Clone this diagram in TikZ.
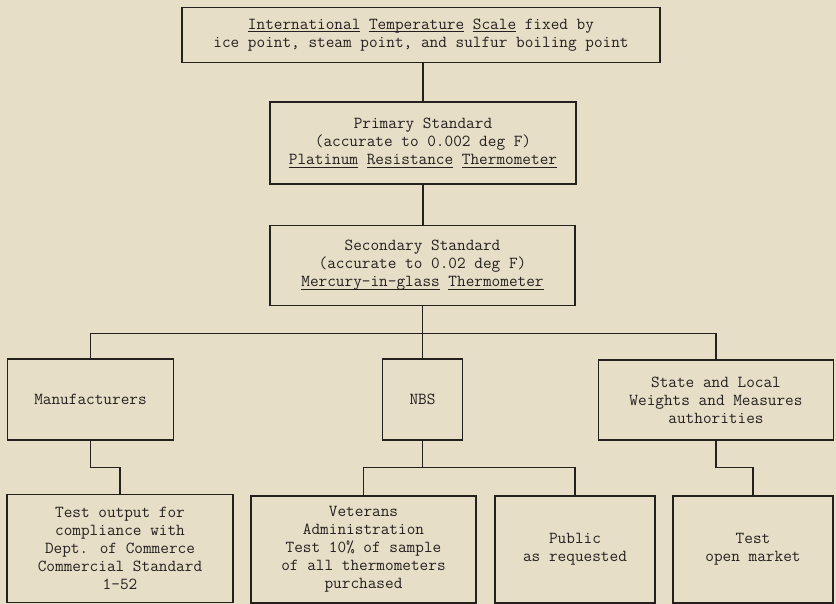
\documentclass[tikz,border=0pt]{standalone}
\usepackage{fontspec}
\usetikzlibrary{calc}
\definecolor{paper}{RGB}{231,222,200}
\definecolor{ink}{RGB}{35,32,30}
% typewritten underline under a single word
\newsavebox\uwbox
\newcommand\uw[1]{\sbox\uwbox{#1}\rlap{\rule[-3pt]{\wd\uwbox}{0.9pt}}\usebox\uwbox}
\begin{document}
\begin{tikzpicture}[x=1pt,y=-1pt,
  box/.style={draw=ink, line width=1.5pt, inner sep=0pt, align=center, text=ink,
    font=\ttfamily\fontsize{16.8}{17.9}\selectfont},
  link/.style={draw=ink, line width=1.5pt}]
\fill[paper] (0,0) rectangle (836,604);
\useasboundingbox (0,0) rectangle (836,604);

% standards chain
\node[box, minimum width=478pt, minimum height=55pt] (scale) at (421,35)
  {\uw{International} \uw{Temperature} \uw{Scale} fixed by\\
   ice point, steam point, and sulfur boiling point};
\node[box, minimum width=306pt, minimum height=82pt] (primary) at (423,143)
  {Primary Standard\\(accurate to 0.002 deg F)\\
   \uw{Platinum} \uw{Resistance} \uw{Thermometer}};
\node[box, minimum width=305pt, minimum height=80pt] (secondary) at (422.5,265.5)
  {Secondary Standard\\(accurate to 0.02 deg F)\\
   \uw{Mercury-in-glass} \uw{Thermometer}};

% users of the secondary standard
\node[box, minimum width=166pt, minimum height=81pt] (manuf) at (90.5,399.5) {Manufacturers};
\node[box, minimum width=80pt, minimum height=81pt] (nbs) at (422.5,399.5) {NBS};
\node[box, minimum width=235pt, minimum height=80pt] (state) at (716,400)
  {State and Local\\Weights and Measures\\authorities};

% testing programs
\node[box, minimum width=226pt, minimum height=108pt] (testout) at (120,548.5)
  {Test output for\\compliance with\\Dept. of Commerce\\Commercial Standard\\1-52};
\node[box, minimum width=225pt, minimum height=107pt] (vet) at (363.5,549.5)
  {Veterans\\Administration\\Test 10\% of sample\\of all thermometers\\purchased};
\node[box, minimum width=160pt, minimum height=107pt] (public) at (575,549.5)
  {Public\\as requested};
\node[box, minimum width=160pt, minimum height=107pt] (market) at (753,549.5)
  {Test\\open market};

% junction levels
\coordinate (split1) at (422.5,333.5);
\coordinate (split2) at (0,467.5);

\draw[link] (primary.north |- scale.south) -- (primary.north);
\draw[link] (primary.south) -- (primary.south |- secondary.north);
\draw[link] (secondary.south) -- (nbs.north);
\draw[link] (manuf.north) |- (split1) -| (state.north);

\draw[link] (manuf.south) -- (manuf.south |- split2) -| (testout.north);
\draw[link] (nbs.south) -- (nbs.south |- split2);
\draw[link] (vet.north) |- (nbs.south |- split2) -| (public.north);
\draw[link] (state.south) -- (state.south |- split2) -| (market.north);
\end{tikzpicture}
\end{document}
